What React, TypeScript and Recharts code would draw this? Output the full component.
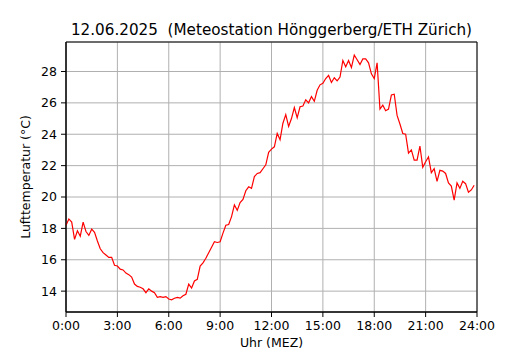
import { LineChart, Line, XAxis, YAxis, CartesianGrid, ReferenceArea } from "recharts";

const title = "12.06.2025  (Meteostation Hönggerberg/ETH Zürich)";
const xLabel = "Uhr (MEZ)";
const yLabel = "Lufttemperatur (°C)";

// 10-minute readings from 0:00 to 23:50
const temperature = [
  18.2, 18.6, 18.4, 17.3, 17.85, 17.5, 18.4, 17.8, 17.55, 17.95, 17.75, 17.2,
  16.7, 16.45, 16.3, 16.15, 16.15, 15.65, 15.6, 15.4, 15.35, 15.15, 15.05, 14.9,
  14.45, 14.3, 14.25, 14.15, 13.9, 14.15, 14.0, 13.9, 13.6, 13.65, 13.6, 13.65,
  13.5, 13.45, 13.55, 13.6, 13.55, 13.7, 13.8, 14.45, 14.2, 14.65, 14.75, 15.6,
  15.8, 16.1, 16.45, 16.8, 17.15, 17.1, 17.15, 17.7, 18.2, 18.25, 18.75, 19.5,
  19.15, 19.65, 19.85, 20.4, 20.65, 20.55, 21.3, 21.5, 21.55, 21.8, 22.05, 22.85,
  23.05, 23.2, 24.05, 23.65, 24.7, 25.25, 24.5, 25.0, 25.7, 25.05, 25.75, 25.8,
  26.2, 26.0, 26.4, 26.1, 26.8, 27.15, 27.25, 27.55, 27.75, 27.3, 27.6, 27.4,
  27.65, 28.7, 28.3, 28.7, 28.25, 29.05, 28.75, 28.45, 28.8, 28.8, 28.55, 27.85,
  27.55, 28.55, 25.6, 25.85, 25.5, 25.6, 26.5, 26.55, 25.2, 24.65, 24.05, 24.0,
  22.8, 23.0, 22.35, 22.35, 23.25, 21.9, 22.25, 22.55, 21.55, 21.8, 21.0, 21.7,
  21.65, 21.5, 20.9, 20.7, 19.8, 20.9, 20.55, 21.0, 20.85, 20.3, 20.45, 20.75,
];

const hourTicks = [0, 3, 6, 9, 12, 15, 18, 21, 24];
const hourLabels = ["0:00", "3:00", "6:00", "9:00", "12:00", "15:00", "18:00", "21:00", "24:00"];
const tempTicks = [14, 16, 18, 20, 22, 24, 26, 28];
const tempDomain = [12.67, 29.88];

const data = temperature.map((t, i) => ({ hour: (i * 10) / 60, t }));

const font = "DejaVu Sans, sans-serif";
const tickStyle = { fontSize: 12.5, fill: "#000", fontFamily: font };

export default function App() {
  return (
    <div style={{ position: "absolute", left: 0, top: 0, width: 530, height: 350, background: "#fff" }}>
      <div
        style={{
          position: "absolute",
          top: 21.5,
          left: 0,
          width: 543,
          textAlign: "center",
          fontFamily: font,
          fontSize: 15.2,
          lineHeight: "17px",
          color: "#000",
          whiteSpace: "pre",
        }}
      >
        {title}
      </div>
      <LineChart
        width={530}
        height={350}
        data={data}
        margin={{ top: 42, right: 53, bottom: 0, left: 0 }}
      >
        <CartesianGrid stroke="#b0b0b0" strokeWidth={1} />
        <XAxis
          dataKey="hour"
          type="number"
          domain={[0, 24]}
          ticks={hourTicks}
          tickFormatter={(h: number) => hourLabels[hourTicks.indexOf(h)]}
          height={38}
          tickSize={5}
          tickMargin={4}
          tick={tickStyle}
          stroke="#000"
          interval={0}
          label={{ value: xLabel, position: "insideBottom", offset: 3, fill: "#000", fontSize: 12.5, fontFamily: font }}
        />
        <YAxis
          type="number"
          domain={tempDomain}
          ticks={tempTicks}
          allowDataOverflow
          width={66}
          tickSize={5}
          tickMargin={4}
          tick={tickStyle}
          stroke="#000"
          interval={0}
          label={{
            value: yLabel,
            angle: -90,
            position: "insideLeft",
            offset: 26,
            fill: "#000",
            fontSize: 12.5,
            fontFamily: font,
            style: { textAnchor: "middle" },
          }}
        />
        <ReferenceArea x1={0} x2={24} y1={tempDomain[0]} y2={tempDomain[1]} fill="none" stroke="#000" strokeWidth={1} />
        <Line
          type="linear"
          dataKey="t"
          stroke="#ff0000"
          strokeWidth={1.2}
          dot={false}
          isAnimationActive={false}
        />
      </LineChart>
    </div>
  );
}
